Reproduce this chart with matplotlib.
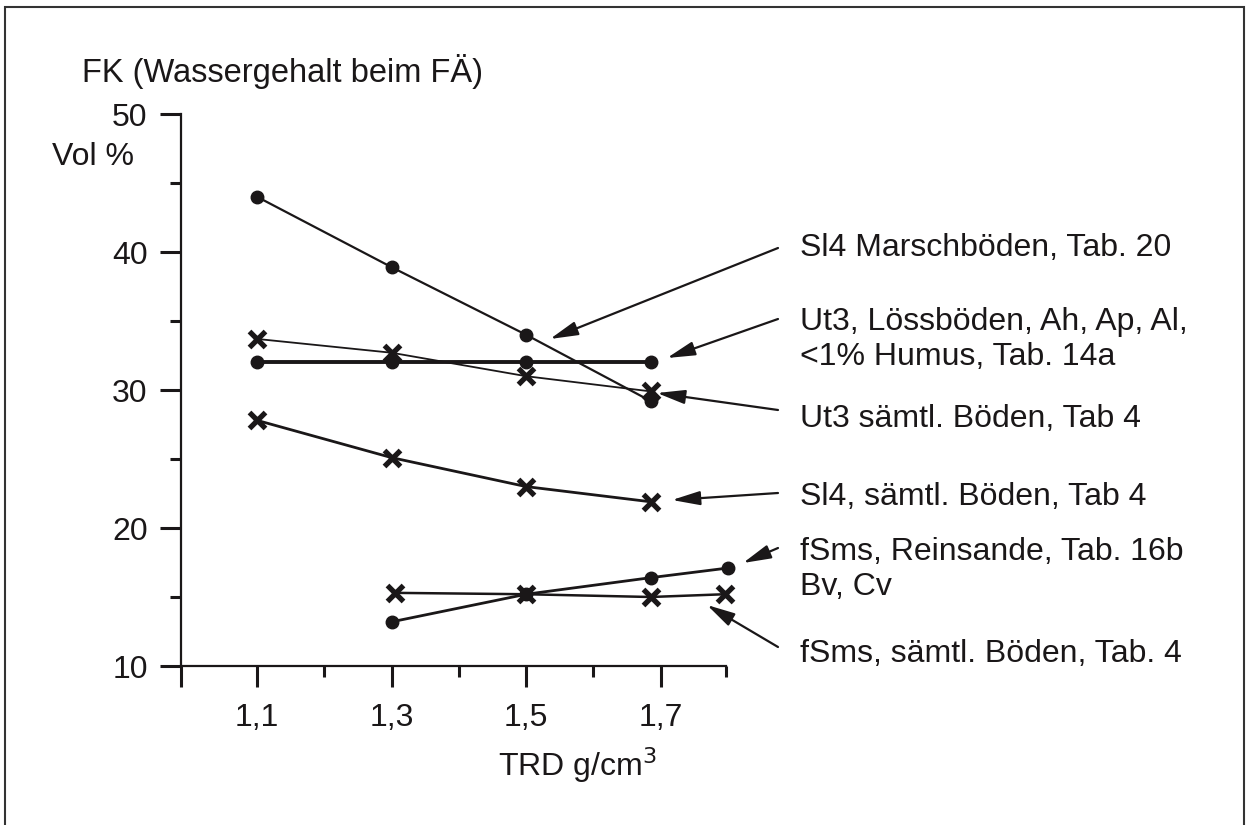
import matplotlib.pyplot as plt
from matplotlib.patches import Rectangle

plt.rcParams["font.family"] = ["Liberation Sans", "DejaVu Sans"]
INK = "#1a1718"
W, H = 1249, 825

# TRD (g/cm3) and FK (Vol %) per series
sl4_marsch_x = [1.1, 1.3, 1.5, 1.685]
sl4_marsch_y = [44.0, 38.9, 34.0, 29.2]
ut3_loess_x = [1.1, 1.3, 1.5, 1.685]
ut3_loess_y = [32.0, 32.0, 32.0, 32.0]
ut3_all_x = [1.1, 1.3, 1.5, 1.685]
ut3_all_y = [33.7, 32.7, 31.0, 29.9]
sl4_all_x = [1.1, 1.3, 1.5, 1.685]
sl4_all_y = [27.8, 25.1, 23.0, 21.9]
fsms_rein_x = [1.3, 1.5, 1.685, 1.8]
fsms_rein_y = [13.2, 15.2, 16.4, 17.1]
fsms_all_x = [1.305, 1.5, 1.685, 1.795]
fsms_all_y = [15.3, 15.2, 15.0, 15.2]

x_major = [1.1, 1.3, 1.5, 1.7]
x_labels = ["1,1", "1,3", "1,5", "1,7"]
y_major = [10, 20, 30, 40, 50]

fig = plt.figure(figsize=(12.49, 8.25), dpi=100)
ax = fig.add_axes([181 / W, 1 - 666 / H, 545 / W, 552 / H])

# frame around everything
fig.patches.append(Rectangle((5 / W, -0.01), 1239 / W, 1.01 - 7 / H, transform=fig.transFigure,
                             fill=False, edgecolor="#333333", linewidth=1.5))

ax.plot(sl4_marsch_x, sl4_marsch_y, "-o", color=INK, lw=1.6, ms=9, clip_on=False)
ax.plot(ut3_loess_x, ut3_loess_y, "-o", color=INK, lw=2.8, ms=9, clip_on=False)
ax.plot(ut3_all_x, ut3_all_y, "-x", color=INK, lw=1.3, ms=12, mew=3.8, clip_on=False)
ax.plot(sl4_all_x, sl4_all_y, "-x", color=INK, lw=2.0, ms=12, mew=3.8, clip_on=False)
ax.plot(fsms_rein_x, fsms_rein_y, "-o", color=INK, lw=2.0, ms=9, clip_on=False)
ax.plot(fsms_all_x, fsms_all_y, "-x", color=INK, lw=1.8, ms=12, mew=3.8, clip_on=False)

ax.set_xlim(0.987, 1.797)
ax.set_ylim(10, 50)
for s in ["top", "right"]:
    ax.spines[s].set_visible(False)
for s in ["left", "bottom"]:
    ax.spines[s].set_linewidth(1.6)
    ax.spines[s].set_color(INK)

ax.set_xticks([0.987] + x_major)
ax.set_xticklabels([""] + x_labels)
ax.set_xticks([1.2, 1.4, 1.6, 1.797], minor=True)
ax.set_yticks(y_major)
ax.set_yticks([15, 25, 35, 45], minor=True)
ax.tick_params(axis="both", which="major", length=15, width=2.2, color=INK, labelsize=23, labelcolor=INK)
ax.tick_params(axis="both", which="minor", length=8, width=2.2, color=INK)
ax.tick_params(axis="y", which="major", pad=9)
ax.tick_params(axis="x", which="major", pad=12)

fig.text(82 / W, 1 - 82 / H, "FK (Wassergehalt beim FÄ)", fontsize=23.5, color=INK, va="baseline")
fig.text(52 / W, 1 - 165 / H, "Vol %", fontsize=23, color=INK, va="baseline")
fig.text(498 / W, 1 - 776 / H, "TRD g/cm$^3$", fontsize=23, color=INK, va="baseline")

# labels on the right: (lines, baselines px)
labels = [
    (["Sl4 Marschböden, Tab. 20"], [256]),
    (["Ut3, Lössböden, Ah, Ap, Al,", "<1% Humus, Tab. 14a"], [330, 365]),
    (["Ut3 sämtl. Böden, Tab 4"], [427]),
    (["Sl4, sämtl. Böden, Tab 4"], [505]),
    (["fSms, Reinsande, Tab. 16b", "Bv, Cv"], [560, 595]),
    (["fSms, sämtl. Böden, Tab. 4"], [662]),
]
# arrows: start px, tip px
arrows = [
    ((778, 248), (550, 339)),
    ((778, 319), (667, 358)),
    ((778, 410), (657, 393)),
    ((778, 493), (672, 500)),
    ((778, 548), (743, 563)),
    ((778, 647), (707, 605)),
]
for (lines, bases), ((sx, sy), (tx, ty)) in zip(labels, arrows):
    for line, b in zip(lines, bases):
        fig.text(800 / W, 1 - b / H, line, fontsize=23, color=INK, va="baseline")
    ax.annotate("", xy=(tx, H - ty), xycoords="figure pixels",
                xytext=(sx, H - sy), textcoords="figure pixels",
                arrowprops=dict(arrowstyle="-|>,head_length=1.0,head_width=0.25", mutation_scale=17,
                                color=INK, lw=1.6, shrinkA=0, shrinkB=0))

fig.savefig("out.png", dpi=100)
